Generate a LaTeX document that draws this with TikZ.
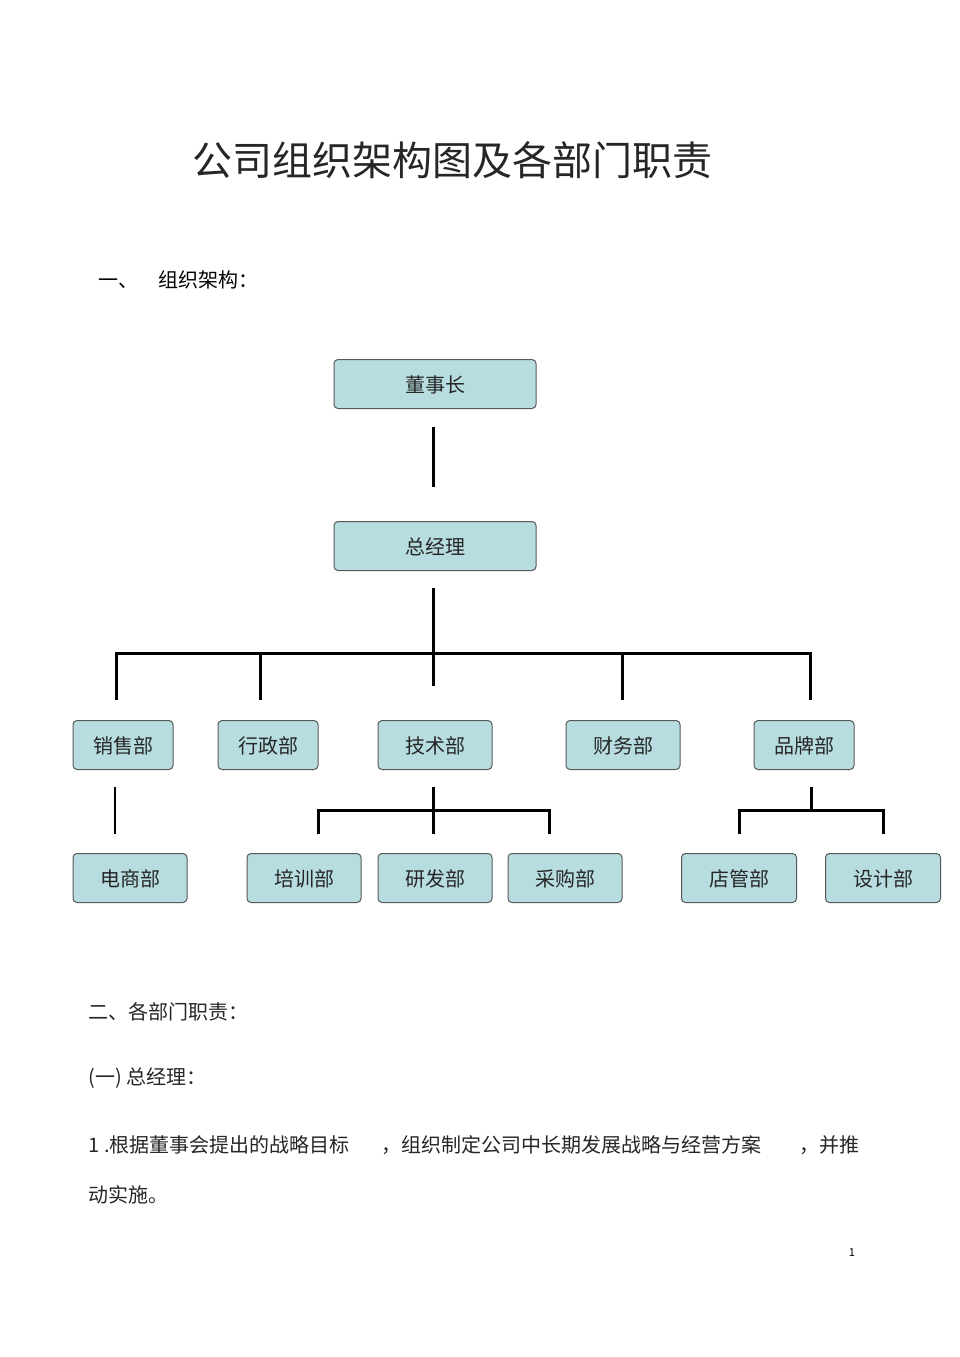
\documentclass[tikz,border=0pt]{standalone}
\usepackage{fontspec}
\setmainfont{Noto Sans CJK SC}
\begin{document}
\begin{tikzpicture}[x=1pt,y=-1pt,
 box/.style={draw=black!65,line width=1pt,rounded corners=4pt,fill={rgb,255:red,183;green,221;blue,224},minimum height=49pt,inner sep=0pt,text depth=-4pt,font=\fontsize{20}{20}\selectfont,text=black!85},
 ln/.style={line width=3pt,black}]
\useasboundingbox (0,0) rectangle (960,1357);
\fill[white] (0,0) rectangle (960,1357);
\node[font=\fontsize{40}{40}\selectfont,text=black!85] at (452,160) {公司组织架构图及各部门职责};
\node[anchor=west,font=\fontsize{20}{20}\selectfont] at (95,280) {一、\quad 组织架构：};
\node[box,minimum width=202pt] (dsz) at (435,384) {董事长};
\node[box,minimum width=202pt] (zjl) at (435,546) {总经理};
\node[box,minimum width=100pt] (xs) at (123,745) {销售部};
\node[box,minimum width=100pt] (xz) at (268,745) {行政部};
\node[box,minimum width=114pt] (js) at (435,745) {技术部};
\node[box,minimum width=114pt] (cw) at (623,745) {财务部};
\node[box,minimum width=100pt] (pp) at (804,745) {品牌部};
\node[box,minimum width=114pt] (ds) at (130,878) {电商部};
\node[box,minimum width=114pt] (px) at (304,878) {培训部};
\node[box,minimum width=114pt] (yf) at (435,878) {研发部};
\node[box,minimum width=114pt] (cg) at (565,878) {采购部};
\node[box,minimum width=115pt] (dg) at (739,878) {店管部};
\node[box,minimum width=115pt] (sj) at (883,878) {设计部};
\draw[ln] (433,427) -- (433,487);
\draw[ln] (433,588) -- (433,686);
\draw[ln] (116,700) -- (116,653) -- (810,653) -- (810,700);
\draw[ln] (260,653) -- (260,700);
\draw[ln] (622,653) -- (622,700);
\draw[line width=2pt] (115,787) -- (115,834);
\draw[ln] (433,787) -- (433,834);
\draw[ln] (318,834) -- (318,810) -- (549,810) -- (549,834);
\draw[ln] (811,787) -- (811,810);
\draw[ln] (739,834) -- (739,810) -- (883,810) -- (883,834);
\begin{scope}[every node/.style={anchor=west,font=\fontsize{20}{20}\selectfont,text=black!85}]
\node at (85,1012) {二、各部门职责：};
\node at (85,1078) {(一) 总经理：};
\node at (85,1145) {1 .根据董事会提出的战略目标};
\node at (378,1145) {，组织制定公司中长期发展战略与经营方案};
\node at (796,1145) {，并推};
\node at (85,1195) {动实施。};
\end{scope}
\node[font=\fontsize{11}{11}\selectfont] at (852,1253) {1};
\end{tikzpicture}
\end{document}
